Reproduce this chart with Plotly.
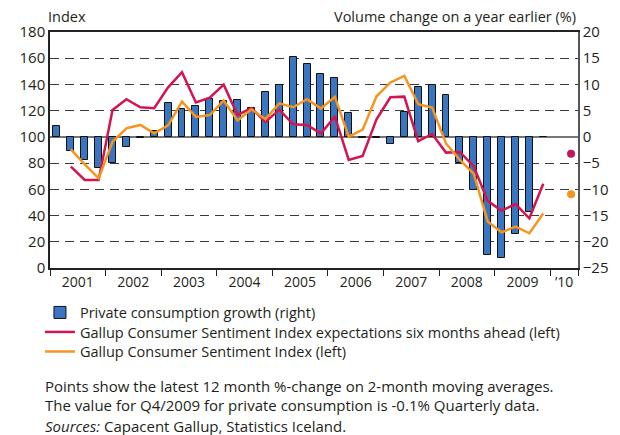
import plotly.graph_objects as go

# --- data (quarterly, 2001 Q1 .. 2009 Q4) ---
years = ["2001", "2002", "2003", "2004", "2005", "2006", "2007", "2008", "2009", "’10"]

# private consumption, volume change on a year earlier (%), right axis
consumption = [2.1, -2.6, -4.4, -5.9,
               -4.9, -2.0, -0.3, 1.2,
               6.5, 5.3, 5.8, 7.2,
               6.9, 7.0, 5.6, 8.6,
               9.9, 15.2, 13.9, 11.9,
               11.2, 4.5, -0.2, -0.3,
               -1.4, 4.8, 9.5, 9.9,
               8.0, -4.9, -10.2, -22.5,
               -23.0, -18.6, -14.4, -0.1]

# Gallup expectations six months ahead (index, left axis)
expectations = [None, 77.3, 67.1, 67.1,
                120.5, 128.7, 122.6, 121.8,
                137.8, 149.3, 126.3, 129.9,
                139.8, 116.7, 122.0, 111.3,
                120.8, 109.6, 109.1, 102.5,
                115.6, 82.4, 85.4, 113.4,
                130.2, 130.7, 96.7, 102.2,
                88.0, 88.5, 77.5, 51.2,
                43.6, 48.8, 37.9, 64.3]

# Gallup consumer sentiment index (left axis)
sentiment = [None, 90.5, 79.0, 68.4,
             96.3, 106.5, 109.1, 102.7,
             108.8, 126.9, 115.2, 116.7,
             127.8, 112.6, 121.1, 113.5,
             125.6, 122.6, 128.8, 121.6,
             130.5, 100.2, 105.5, 131.0,
             141.5, 146.6, 125.0, 122.4,
             95.0, 82.5, 71.8, 35.5,
             27.2, 31.5, 26.5, 41.5]

# latest points (12 month % change on 2-month moving averages)
latest_quarter = 37
latest_expectations = 87.2
latest_sentiment = 56.2

RED = "#D4144F"
ORANGE = "#F7941D"
BLUE = "#3A75C2"
TXT = "#231F20"
FONT = "Open Sans"

xq = [i + 0.5 for i in range(len(consumption))]

fig = go.Figure()

fig.add_trace(go.Bar(
    x=xq, y=consumption, width=0.5,
    marker=dict(color=BLUE, line=dict(color="#111111", width=1)),
    name="Private consumption growth (right)", yaxis="y", legend="legend",
))
fig.add_trace(go.Scatter(
    x=xq, y=expectations, mode="lines",
    line=dict(color=RED, width=2.5),
    name="Gallup Consumer Sentiment Index expectations six months ahead (left)",
    yaxis="y2", legend="legend2",
))
fig.add_trace(go.Scatter(
    x=xq, y=sentiment, mode="lines",
    line=dict(color=ORANGE, width=2.5),
    name="Gallup Consumer Sentiment Index (left)", yaxis="y2", legend="legend3",
))
fig.add_trace(go.Scatter(
    x=[latest_quarter + 0.5], y=[latest_expectations], mode="markers",
    marker=dict(color="#C2185B", size=8), showlegend=False, yaxis="y2",
))
fig.add_trace(go.Scatter(
    x=[latest_quarter + 0.5], y=[latest_sentiment], mode="markers",
    marker=dict(color=ORANGE, size=8), showlegend=False, yaxis="y2",
))

label_pos = [4 * i + 2 for i in range(9)] + [37]
boundaries = [4 * i for i in range(10)] + [38]

# the page adds an 8px body margin, so the figure is sized 8px smaller
PLOT_W = 532
PLOT_H = 236


def legend_at(ypix):
    return dict(x=-0.019, y=(268 - ypix) / PLOT_H, xanchor="left", yanchor="middle",
                font=dict(size=14.5), bgcolor="rgba(0,0,0,0)", itemwidth=30)


fig.update_layout(
    width=612, height=427,
    margin=dict(l=38, r=42, t=24, b=167),
    paper_bgcolor="white", plot_bgcolor="white",
    font=dict(family=FONT, size=14, color=TXT),
    bargap=0,
    showlegend=True,
    legend=legend_at(312.5),
    legend2=legend_at(332),
    legend3=legend_at(351.5),
    xaxis=dict(
        range=[0, 38], tickvals=label_pos, ticktext=years, ticks="",
        showline=True, linecolor="#222", linewidth=1.5, mirror=True,
        showgrid=False, zeroline=False,
        minor=dict(tickvals=boundaries, ticks="outside", ticklen=6,
                   tickcolor="#222", tickwidth=1.2, showgrid=False),
    ),
    yaxis=dict(
        range=[-25, 20], dtick=5, side="right", ticks="",
        showline=True, linecolor="#555", linewidth=1.5,
        showgrid=True, gridcolor="#3a3a3a", gridwidth=1, griddash="9px,6px",
        zeroline=True, zerolinecolor="#777", zerolinewidth=1.5,
        tickfont=dict(size=15),
    ),
    yaxis2=dict(
        range=[0, 180], dtick=20, side="left", overlaying="y", ticks="",
        showline=True, linecolor="#222", linewidth=1.5,
        showgrid=False, zeroline=False,
        tickfont=dict(size=15),
    ),
)

fig.add_annotation(text="Index", xref="paper", yref="paper", x=-4 / PLOT_W, y=1 + 15 / PLOT_H,
                   xanchor="left", yanchor="middle", showarrow=False,
                   font=dict(size=14.5))
fig.add_annotation(text="Volume change on a year earlier (%)", xref="paper", yref="paper",
                   x=1, y=1 + 15 / PLOT_H, xanchor="right", yanchor="middle",
                   showarrow=False, font=dict(size=14.5))

notes = [
    ("Points show the latest 12 month %-change on 2-month moving averages.", 386),
    ("The value for Q4/2009 for private consumption is -0.1% Quarterly data.", 405),
    ("<i>Sources:</i> Capacent Gallup, Statistics Iceland.", 426),
]
for txt, ypix in notes:
    fig.add_annotation(text=txt, xref="paper", yref="paper",
                       x=-7 / PLOT_W, y=(268 - ypix) / PLOT_H,
                       xanchor="left", yanchor="middle", showarrow=False,
                       font=dict(size=15))

fig.write_html("out.html")
